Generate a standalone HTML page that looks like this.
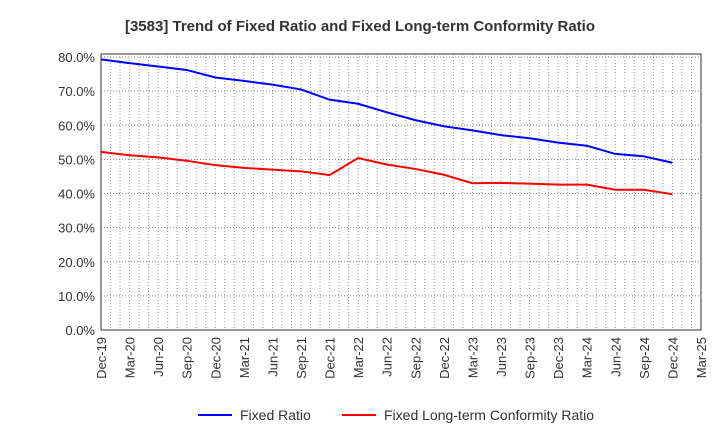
<!DOCTYPE html>
<html><head><meta charset="utf-8"><style>
body{margin:0;background:#fff;font-family:"Liberation Sans",sans-serif}
</style></head><body>
<svg width="720" height="440" xmlns="http://www.w3.org/2000/svg" font-family="Liberation Sans, sans-serif">
<text x="360" y="31" text-anchor="middle" font-size="15" font-weight="bold" fill="#333">[3583]  Trend of Fixed Ratio and Fixed Long-term Conformity Ratio</text>
<g id="grid"></g>
<g id="axes"></g>
<g id="series"></g>
<g>
<line x1="198" y1="415" x2="232" y2="415" stroke="#0000ff" stroke-width="2"/>
<text x="240" y="420" font-size="14" fill="#333">Fixed Ratio</text>
<line x1="342" y1="415" x2="376" y2="415" stroke="#ff0000" stroke-width="2"/>
<text x="384" y="420" font-size="14" fill="#333">Fixed Long-term Conformity Ratio</text>
</g>
</svg>
<script>
const xLabels=["Dec-19","Mar-20","Jun-20","Sep-20","Dec-20","Mar-21","Jun-21","Sep-21","Dec-21","Mar-22","Jun-22","Sep-22","Dec-22","Mar-23","Jun-23","Sep-23","Dec-23","Mar-24","Jun-24","Sep-24","Dec-24","Mar-25"];
const yTicks=[0,10,20,30,40,50,60,70,80];
const fixedRatio=[79.3,78.2,77.2,76.2,74.0,73.0,71.9,70.5,67.5,66.3,63.8,61.5,59.7,58.5,57.1,56.2,54.9,54.0,51.6,50.9,49.0];
const conformityRatio=[52.2,51.2,50.6,49.6,48.3,47.5,47.0,46.5,45.4,50.4,48.5,47.2,45.5,43.0,43.1,42.9,42.6,42.6,41.1,41.1,39.8];
const L=101,R=701,T=54,B=330,NS="http://www.w3.org/2000/svg";
const step=(R-L)/(xLabels.length-1);
const xs=i=>L+i*step, ys=v=>B-v*(B-57)/80;
function mk(tag,attrs,parent){const e=document.createElementNS(NS,tag);for(const k in attrs)e.setAttribute(k,attrs[k]);document.getElementById(parent).appendChild(e);return e;}
for(let m=1;m<(xLabels.length-1)*3;m++){const x=L+m*step/3;
const g=mk('line',{x1:x,x2:x,y1:T,y2:B,stroke:'#999','stroke-dasharray':'1,2','stroke-width':1},'grid');

}
yTicks.forEach(v=>{const y=ys(v);
const g=mk('line',{x1:L,x2:R,y1:y,y2:y,stroke:'#888','stroke-dasharray':'1,2','stroke-width':1},'grid');


const t=mk('text',{x:L-6,y:y+5,'text-anchor':'end','font-size':'13',fill:'#333'},'axes');t.textContent=v.toFixed(1)+'%';

});
const fr=mk('rect',{x:L,y:T,width:R-L,height:B-T,fill:'none',stroke:'#333','stroke-width':1},'axes');


xLabels.forEach((l,i)=>{const x=xs(i);
const t=mk('text',{x:0,y:0,'text-anchor':'end','font-size':'13',fill:'#333',transform:`translate(${x+5},${B+7}) rotate(-90)`},'axes');t.textContent=l;

});
function line(arr,color,name){const p=mk('polyline',{points:arr.map((v,i)=>xs(i)+','+ys(v)).join(' '),fill:'none',stroke:color,'stroke-width':2},'series');

}
line(fixedRatio,'#0000ff','fixed-ratio-line');
line(conformityRatio,'#ff0000','conformity-ratio-line');
</script>
</body></html>
